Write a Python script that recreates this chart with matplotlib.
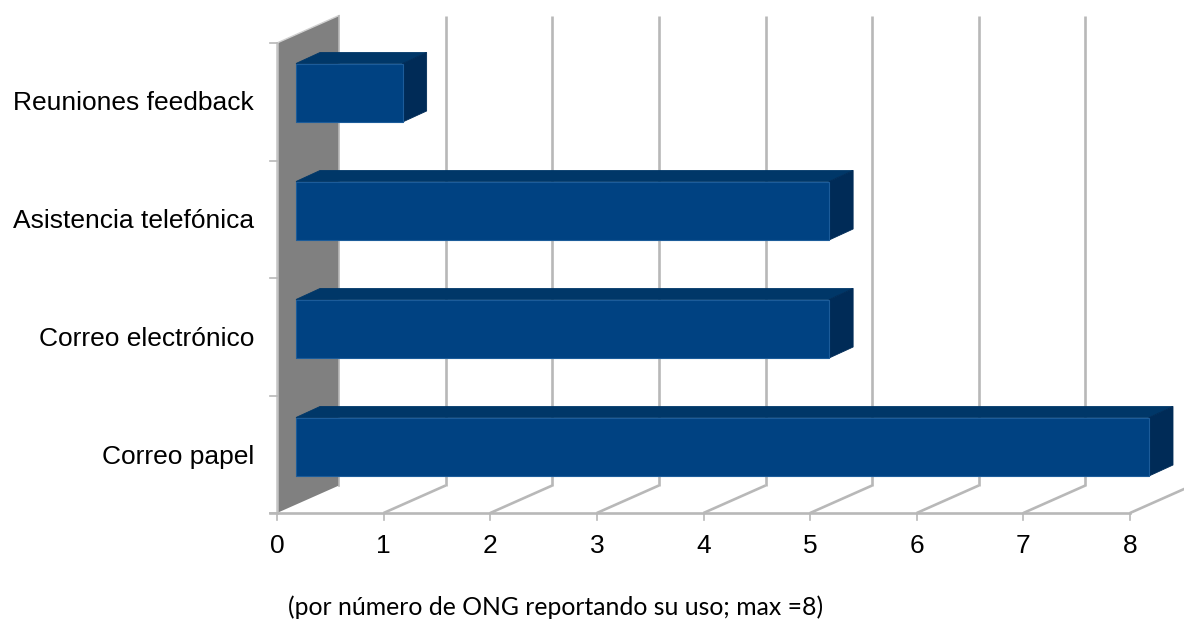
import matplotlib
matplotlib.use("Agg")
import matplotlib.pyplot as plt
from matplotlib.patches import Polygon

categorias = ["Correo papel", "Correo electrónico", "Asistencia telefónica", "Reuniones feedback"]
valores = [8, 5, 5, 1]
ticks_x = [0, 1, 2, 3, 4, 5, 6, 7, 8]
nota = "(por número de ONG reportando su uso; max =8)"

W, H = 1184, 619
px_x = (1130 - 277) / 8.0   # pixels per unit on x
px_y = (513 - 43) / 4.0     # pixels per category

fig = plt.figure(figsize=(W / 100, H / 100), dpi=100)
ax = fig.add_axes([0, 0, 1, 1])
ax.set_xlim(-277 / px_x, (W - 277) / px_x)
ax.set_ylim((513 - H) / px_y, 513 / px_y)
ax.axis("off")

# oblique offsets of the fake 3d
wall_dx, wall_dy = 62 / px_x, 27.5 / px_y
bar_dx, bar_dy = 24 / px_x, 11 / px_y
start_dx = 19 / px_x
bar_low, bar_high = 37 / px_y, 95.5 / px_y
paso = 118 / px_y

gris = "#b8b8b8"

# side wall
ax.add_patch(Polygon([(0, 0), (wall_dx, wall_dy), (wall_dx, 4 + wall_dy), (0, 4)],
                     fc="#808080", ec="none", zorder=1))
ax.plot([0, 0], [0, 4], color="#c4c4c4", lw=1.8, zorder=2)
ax.plot([0, wall_dx], [4, 4 + wall_dy], color="#d0d0d0", lw=1, zorder=2)
ax.plot([wall_dx, wall_dx], [wall_dy, 4 + wall_dy], color="#b8b8b8", lw=1.2, zorder=2)

# grid on the back and on the floor
for t in ticks_x:
    if t > 0:
        ax.plot([t, t + wall_dx], [0, wall_dy], color=gris, lw=1.9, zorder=1,
                solid_capstyle="butt")
        ax.plot([t + wall_dx, t + wall_dx], [wall_dy, 4 + wall_dy], color=gris, lw=1.9, zorder=1,
                solid_capstyle="butt")
    ax.plot([t, t], [0, -7 / px_y], color=gris, lw=1.2, zorder=1)
    ax.text(t, -33 / px_y, str(t), ha="center", va="center", fontsize=19,
            family="Liberation Sans", color="black")
ax.plot([-7 / px_x, 8], [0, 0], color=gris, lw=1.9, zorder=2)

for i in range(5):
    ax.plot([-7 / px_x, 0], [i, i], color=gris, lw=1.2, zorder=2)

# bars
for i, (c, v) in enumerate(zip(categorias, valores)):
    x0 = start_dx
    x1 = start_dx + v
    y0 = i * paso + bar_low
    y1 = i * paso + bar_high
    ax.add_patch(Polygon([(x0, y1), (x0 + bar_dx, y1 + bar_dy), (x1 + bar_dx, y1 + bar_dy), (x1, y1)],
                         fc="#003768", ec="#003768", lw=0.6, zorder=3))
    ax.add_patch(Polygon([(x1, y0), (x1 + bar_dx, y0 + bar_dy), (x1 + bar_dx, y1 + bar_dy), (x1, y1)],
                         fc="#002b57", ec="#002b57", lw=0.6, zorder=3))
    ax.add_patch(Polygon([(x0, y0), (x1, y0), (x1, y1), (x0, y1)],
                         fc="#004282", ec="#1c5c9a", lw=0.8, zorder=4))
    ax.text(-23 / px_x, i * paso + 56 / px_y, c, ha="right", va="center", fontsize=19,
            family="Liberation Sans", color="black")

ax.text(556 / px_x - 277 / px_x, (513 - 607) / px_y, nota, ha="center", va="center",
        fontsize=17.8, family="Lato", color="black")

fig.savefig("out.png", dpi=100)
